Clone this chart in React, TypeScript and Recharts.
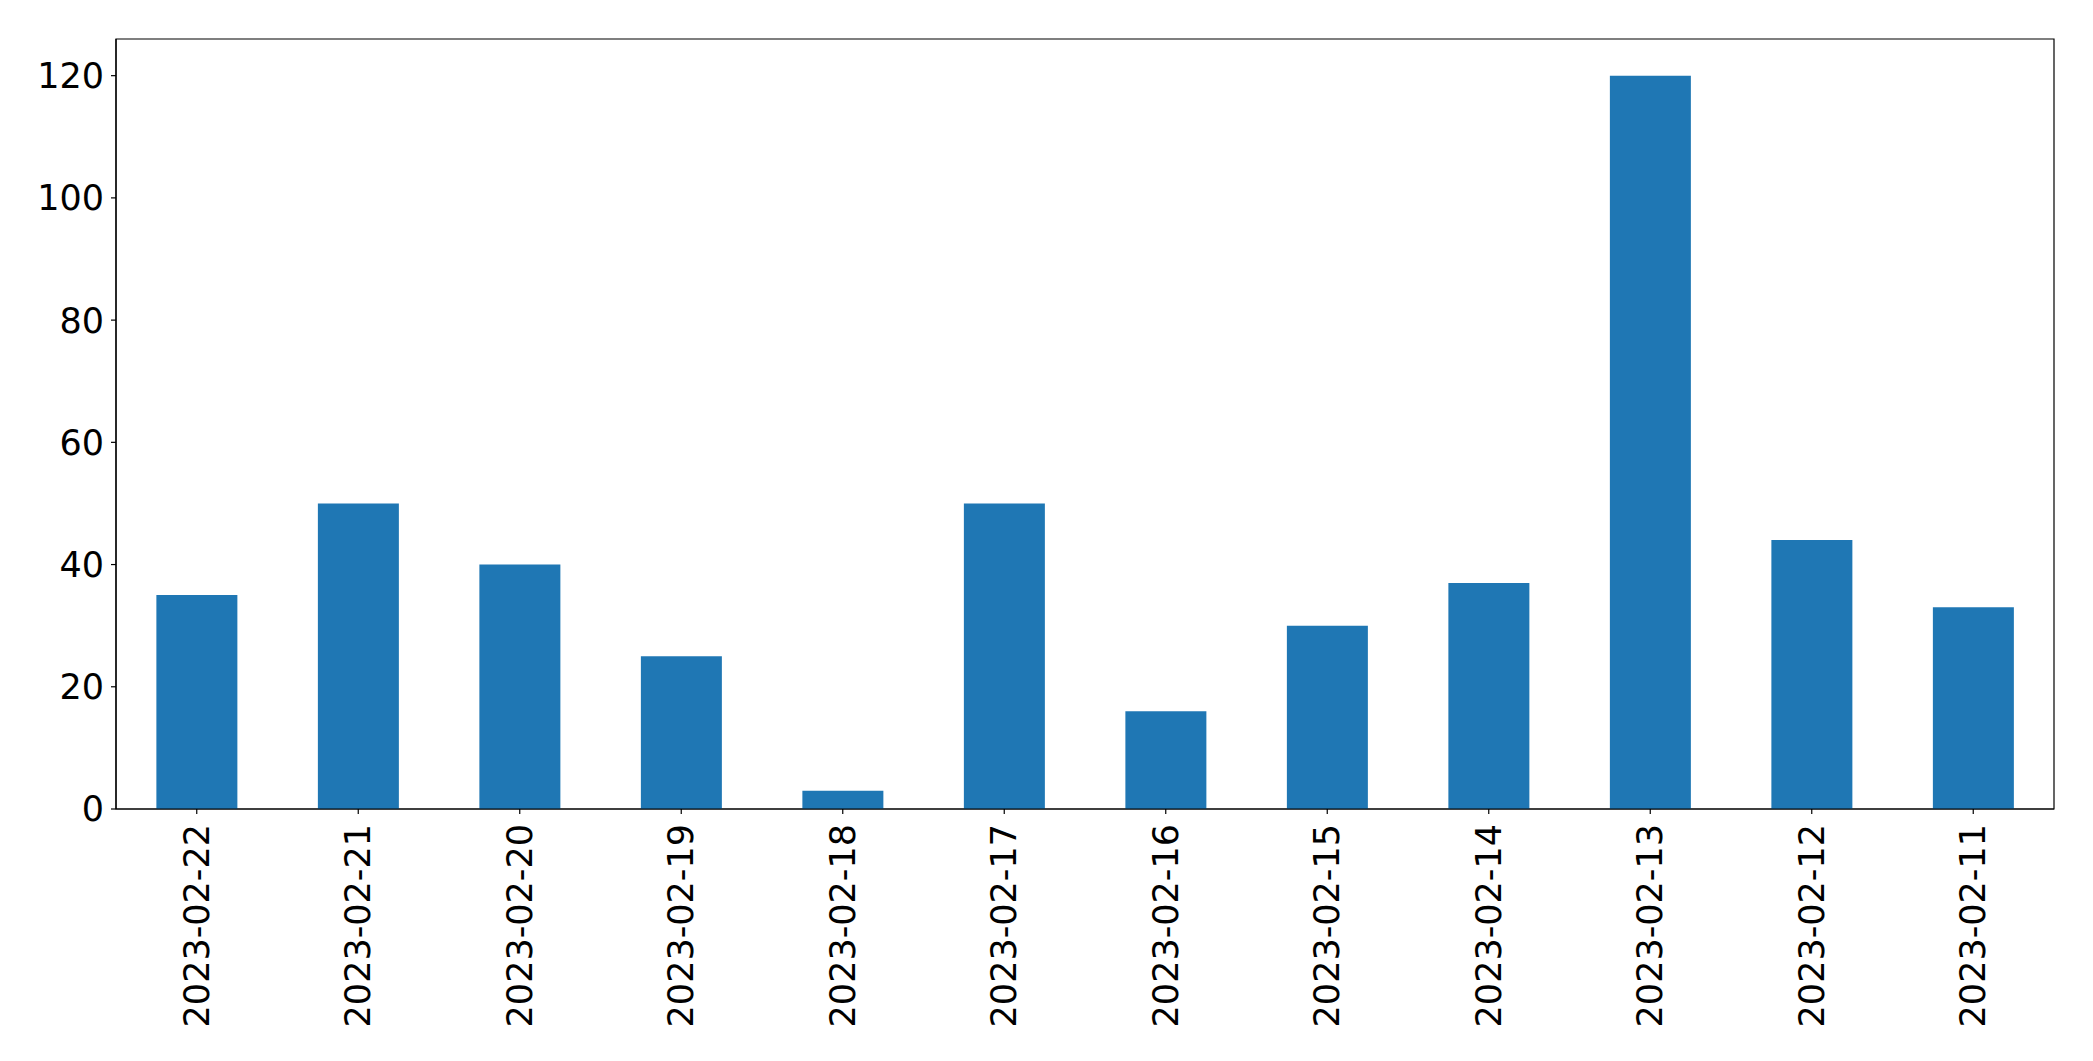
import React from 'react';
import { BarChart, Bar, XAxis, YAxis, ReferenceArea } from 'recharts';

const categories = ['2023-02-22', '2023-02-21', '2023-02-20', '2023-02-19', '2023-02-18', '2023-02-17', '2023-02-16', '2023-02-15', '2023-02-14', '2023-02-13', '2023-02-12', '2023-02-11'];
const values = [35, 50, 40, 25, 3, 50, 16, 30, 37, 120, 44, 33];
const yTicks = [0, 20, 40, 60, 80, 100, 120];

const data = categories.map((c, i) => ({ date: c, value: values[i] }));

const FONT = '"DejaVu Sans", sans-serif';

const XTick = (props: any) => {
  const { x, y, payload } = props;
  return (
    <g>
      <line x1={x} x2={x} y1={y - 8} y2={y - 3} stroke="#000" strokeWidth={1.2} />
      <text
        x={x}
        y={y + 7}
        transform={`rotate(-90, ${x}, ${y + 7})`}
        textAnchor="end"
        dominantBaseline="central"
        fontSize={35}
        fontFamily={FONT}
        fill="#000"
      >
        {payload.value}
      </text>
    </g>
  );
};

export default function App() {
  return (
    <div style={{ position: 'absolute', left: 0, top: 0, background: '#fff' }}>
      <BarChart
        width={2093}
        height={1061}
        data={data}
        margin={{ top: 39, right: 39, left: 0, bottom: 0 }}
        barCategoryGap="25%"
      >
        <XAxis
          dataKey="date"
          height={252}
          tickLine={false}
          tick={<XTick />}
          axisLine={{ stroke: '#000', strokeWidth: 1.2 }}
          interval={0}
        />
        <YAxis
          width={116}
          domain={[0, 126]}
          ticks={yTicks}
          allowDataOverflow
          tickSize={5}
          tickMargin={7}
          tickLine={{ stroke: '#000', strokeWidth: 1.2 }}
          axisLine={{ stroke: '#000', strokeWidth: 1.2 }}
          tick={{ fontSize: 35, fontFamily: FONT, fill: '#000' }}
        />
        <Bar dataKey="value" fill="#1f77b4" isAnimationActive={false} />
        <ReferenceArea y1={0} y2={126} fill="none" stroke="#000" strokeWidth={1.2} ifOverflow="visible" />
      </BarChart>
    </div>
  );
}
